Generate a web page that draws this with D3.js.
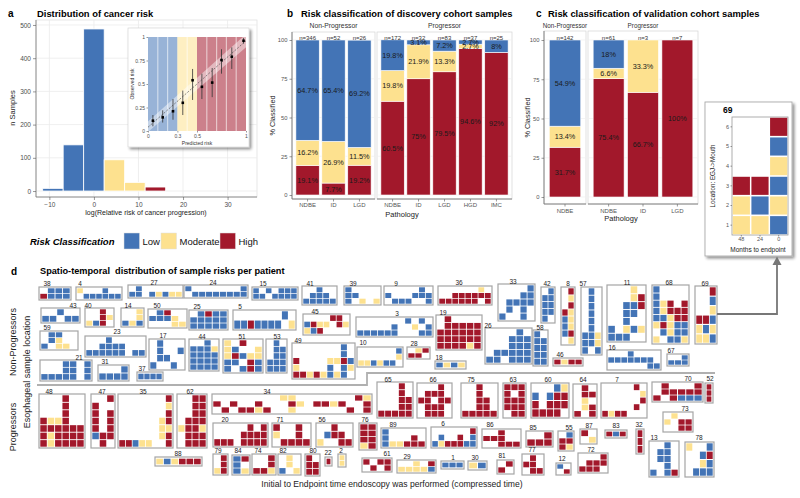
<!DOCTYPE html>
<html><head><meta charset="utf-8">
<script src="https://cdn.jsdelivr.net/npm/d3@7"></script>
<style>
body{margin:0;background:#fff;}
svg{font-family:"Liberation Sans",Arial,Helvetica,sans-serif;}
</style></head><body>
<svg id="fig" width="800" height="498"></svg>
<script>
// ================= DATA =================
const riskLevels = ["Low","Moderate","High"];
const riskCodes = {L:"Low", M:"Moderate", H:"High"};

// Panel a: histogram
const histCenters = [-9.2,-4.6,0,4.6,9.2,13.8];
const histCounts  = [8,139,488,94,26,12];
const histRisk    = ["Low","Low","Low","Moderate","Moderate","High"];
const histBinWidth = 4.6;
const histXTicks = [-10,0,10,20,30];
const histYTicks = [0,100,200,300,400,500];

// Panel a inset: calibration
const calPred = [0.05,0.15,0.255,0.355,0.455,0.55,0.655,0.75,0.855,0.975];
const calObs  = [0.11,0.145,0.21,0.30,0.54,0.47,0.515,0.755,0.79,0.96];
const calLow  = [0.05,0.09,0.12,0.17,0.33,0.34,0.36,0.61,0.66,0.93];
const calHigh = [0.17,0.22,0.34,0.43,0.66,0.61,0.67,0.87,0.89,0.99];
const calCutLo = [0,0.3,0.5];
const calCutHi = [0.3,0.5,1];
const calFitX  = [0,1];
const calFitLo = [-0.01,0.89];
const calFitMid= [0.04,0.96];
const calFitHi = [0.10,1.03];
const calXTicks = [0,0.3,0.5,1];
const calYTicks = [0,0.25,0.5,0.75,1];

// Panel b: discovery cohort
const discCohort = ["Non-Progressor","Non-Progressor","Non-Progressor","Progressor","Progressor","Progressor","Progressor","Progressor"];
const discPath = ["NDBE","ID","LGD","NDBE","ID","LGD","HGD","IMC"];
const discN    = [346,52,26,172,32,83,37,25];
const discHigh = [19.1,7.7,19.2,60.5,75,79.5,94.6,92];
const discMod  = [16.2,26.9,11.5,19.8,21.9,13.3,2.7,0];
const discLow  = [64.7,65.4,69.2,19.8,3.1,7.2,2.7,8];

// Panel c: validation cohort
const valCohort = ["Non-Progressor","Progressor","Progressor","Progressor"];
const valPath = ["NDBE","NDBE","ID","LGD"];
const valN    = [142,61,3,7];
const valHigh = [31.7,75.4,66.7,100];
const valMod  = [13.4,6.6,33.3,0];
const valLow  = [54.9,18,0,0];

const pctTicks = [0,25,50,75,100];

// Panel d: per patient grids (rows top->bottom = mouth->EGJ, cols = time)
const nonProgIds = [38,4,27,24,15,41,39,9,36,33,42,8,57,11,68,69,43,40,14,50,25,5,45,3,59,23,17,44,51,53,49,10,19,28,18,26,58,46,16,67,21,31,37];
const nonProgGrids = [
 [".LLL","HLLL"],
 ["M...L..",".LLLLLL"],
 [".L......","LL.LMLMM"],
 ["L.......L",".LLLLLLLL"],
 ["L.L.LLL","LL.LLLL"],
 ["..L..",".LLL.","LLLLL"],
 ["L....","LL...","L.M.M"],
 [".....L.","L...LLL",".LLL..L"],
 ["......M.","..HHHHHH","HHHHHH.H"],
 ["....L","...LL",".LLLL",".L.L.","L..L."],
 [".L","LL","LL","LL","L."],
 [".H",".M",".H","HM","LM","LM","LH",".M"],
 [".L.",".L.",".L.",".L.",".L.",".L.","LLM","LLM","L.L"],
 ["...M.","...MH","..LLH","..LL.","..L..","L.MLM","LLL.."],
 ["L....","L....","LMH.H","LMHHH","LLMHH","MHMLL",".LMLL","M.LLM"],
 ["..H","..L","..M","HHL","MLM","MML"],
 ["..L..","LL.LL"],
 ["..H.","..HM","MLH."],
 ["..M","..M","LML"],
 [".LH..","LLLM.","...MM"],
 [".LHLL","LLLLL","LLLLL"],
 [".......L.","LLHLLLL.M"],
 ["....HH.","LHMM.HM","MLH...."],
 [".......L.L.",".....L..M.L","LLLLLL...LL"],
 [".LL..",".LM..","L.MM."],
 ["...L.....","..LLLL...","LLLLLL.LL"],
 [".L...",".L..L",".LL..","L..L."],
 ["..L.","LLLM","LLLL","LLLL","LLLL"],
 ["M.H..","ML..M","MHLMM","LL.HL","L.LHL"],
 [".L.",".LL",".LL","LLL","LLL"],
 [".......L.",".......L.","H....MMHL","M....L.LM","HHMHMLML."],
 ["......L","......M","MMLMLL."],
 [".H....",".HHHHH","HHHHHH","HHHHHH","HHHHMH"],
 [".MH","HH."],
 ["LMLM"],
 ["....L.","...LLL","...LLL",".LLLLL","LL.LLL"],
 ["L.","LL","LL","LL","LL"],
 ["HMHH"],
 ["...L....","LLLLLLL.","......LL"],
 ["..L","LLL"],
 ["...LL.L","...LL.L","LLLLL.L"],
 ["...L","LLLL"],
 ["LLLL"]
];
const progIds = [48,47,35,62,34,65,66,75,63,60,64,7,70,52,20,71,56,76,89,6,86,85,55,87,83,32,73,13,78,88,79,84,74,82,80,22,2,61,29,1,30,81,77,12,72];
const progGrids = [
 ["...H..","...H..","...H..","HMMH..","HHHHHH","HMHHHH","HMHHHH"],
 ["..H","H..","H.H","H.H","H.H","LHH",".H."],
 [".......H",".......M",".......H","......MH","......MM","......MH","HHLMM..H"],
 ["..HH","..HH","..HH",".HHH","MHHM",".HHH",".HHH"],
 ["........MM.......HM","H.H..H...HM.HHMH..H",".H.HHMH..M......H.H"],
 ["...H.","...H.","...HH","...HH","HHHHH"],
 ["...H.",".HHH.","HH.HH",".HHH.",".HHH."],
 ["..H..","..H..","..HH.","..HH.","HHHHH"],
 ["HHH","H.H","HHH","HHH",".HH"],
 ["...LM","L.LHH","H.HHH","HHHH."],
 [".H.",".HH",".M.",".MH","H.H"],
 [".....H.","......M","......H",".....H.","HMHH..."],
 [".H...H",".HHHHH","H.HLLL"],
 ["H","H","H"],
 [".....H.H","....HHHH","HHH.HHHH"],
 ["H..H.","M..H.",".HHHH"],
 ["..H..",".LHH.","M..HH"],
 ["HH","HH","HH","MH"],
 ["L.....","L...H.","LMMHHH"],
 ["......H",".L..H.L","LMHHHLL"],
 ["..H..","HHH..","..HHH"],
 ["..H","HHH"],
 [".L","HH","HM"],
 ["H.",".M"],
 ["HLH"],
 ["H","H","H"],
 [".M..","M.HH","..HH"],
 ["..L.",".LL.",".LL.","..L.","L.LH"],
 ["M..L","..LH","..ML",".LLL"],
 ["MLMHHH"],
 [".H",".H","MH"],
 ["LH","L.","LM"],
 ["..H","..H","HHM"],
 [".M.",".M.","L.M"],
 ["H.","HH","HH"],
 ["H"],
 ["M","M"],
 ["H.HH",".H.H"],
 ["..M.H","MMMML"],
 ["LLL"],
 ["ML"],
 [".H","H."],
 [".H.","HH.",".HH"],
 ["L.",".H"],
 ["...H",".HHH","HHH."]
];

// Patient 69 detail
const p69Months = [48,24,0];
const p69Locs   = [1,2,3,4,5,6];
const p69CellMonth = [48,48,48,24,24,24,0,0,0,0,0,0];
const p69CellLoc   = [1,2,3,1,2,3,1,2,3,4,5,6];
const p69CellRisk  = ["Moderate","Moderate","High","Moderate","Low","High","Low","Moderate","Low","Moderate","Low","High"];

// ================= LAYOUT (positions only) =================
const tileBoxes = {
 38:[39,287,71,300,47,283], 4:[76,287,122,300,80,283], 27:[128,285,183,298,154,282], 24:[184,285,248,298,213,282],
 15:[252,287,298,300,263,283], 41:[302,286,337,305,310,283], 39:[344,286,381,305,353,283], 9:[384,286,433,305,396,283],
 36:[438,286,492,305,459,282], 33:[498,284,535,321,513,281], 42:[541,287,555,323,547,283], 8:[561,287,575,345,568,283],
 57:[581,287,602,355,583,283], 11:[607,285,646,342,627,282], 68:[652,285,689,344,669,282], 69:[695,286,717,344,705,283],
 43:[41,308,80,323,73,305], 40:[85,308,114,327,88,305], 14:[121,308,144,327,128,305], 50:[148,309,187,328,157,305],
 25:[189,310,228,330,197,306], 5:[233,310,296,330,240,306], 45:[303,314,350,335,315,311], 3:[356,317,433,337,397,313],
 59:[40,331,78,350,47,327], 23:[85,336,146,357,117,331], 17:[149,339,185,370,163,335], 44:[189,339,219,371,202,336],
 51:[223,339,263,373,242,336], 53:[266,339,287,373,277,336], 49:[292,343,355,379,298,340], 10:[357,347,403,367,363,342],
 19:[436,315,482,350,443,312], 28:[407,347,430,359,414,343], 18:[435,361,466,369,439,357], 26:[485,328,532,364,488,325],
 58:[533,330,548,366,540,327], 46:[553,358,583,366,560,354], 16:[607,350,661,370,612,347], 67:[667,354,689,366,671,350],
 21:[40,360,92,381,79,357], 31:[98,365,129,381,105,361], 37:[137,372,163,381,142,368],
 48:[39,394,85,448,49,391], 47:[91,394,115,448,102,391], 35:[118,394,173,448,143,391], 62:[177,394,207,448,190,391],
 34:[212,394,372,414,267,391], 65:[377,382,413,418,388,379], 66:[417,383,452,418,433,379], 75:[461,383,498,418,471,379],
 63:[503,383,526,418,513,379], 60:[531,383,569,418,548,379], 64:[573,384,597,418,583,379], 7:[601,383,647,418,617,379],
 70:[652,382,703,402,688,378], 52:[705,383,713,403,710,378], 20:[213,423,268,447,225,419], 71:[272,423,311,447,280,419],
 56:[316,423,353,447,322,419], 76:[359,423,377,450,365,419], 89:[381,428,426,448,393,424], 6:[431,427,477,448,443,423],
 86:[482,429,521,448,490,424], 85:[526,431,553,447,533,427], 55:[558,431,574,451,569,427], 87:[580,429,597,444,589,425],
 83:[605,430,627,438,616,425], 32:[636,429,644,454,639,424], 73:[663,412,693,432,685,408], 13:[649,441,679,477,654,437],
 78:[685,442,714,477,699,437], 88:[155,457,202,466,178,453], 79:[213,454,228,475,218,450], 84:[232,455,250,475,238,450],
 74:[252,454,276,475,258,450], 82:[278,454,301,475,283,450], 80:[305,454,320,476,313,450], 22:[325,457,332,466,328,452],
 2:[338,454,346,467,341,450], 61:[362,458,392,472,387,453], 29:[397,460,436,473,407,456], 1:[441,461,464,469,453,457],
 30:[468,461,487,470,475,457], 81:[497,460,514,474,502,455], 77:[522,454,544,475,532,449], 12:[556,463,571,475,562,458],
 72:[578,453,608,473,591,449]
};

// ================= STYLE =================
const FONT = "'Liberation Sans', Arial, Helvetica, sans-serif";
const riskColor = d3.scaleOrdinal().domain(riskLevels).range(["#4374B6","#FDE18F","#A2182B"]);
const svg = d3.select("#fig");

function txt(g, x, y, s, o = {}) {
  const t = g.append("text").attr("x", x).attr("y", y).text(s)
    .attr("font-size", o.size || 8).attr("fill", o.fill || "#000")
    .attr("text-anchor", o.anchor || "start")
    .attr("dominant-baseline", o.base || "central")
    .attr("font-family", FONT);
  if (o.weight) t.attr("font-weight", o.weight);
  if (o.style) t.attr("font-style", o.style);
  if (o.rotate) t.attr("transform", `rotate(${o.rotate},${x},${y})`);
  if (o.pre) t.style("white-space", "pre");
  return t;
}
function styleAxis(a, size, col) {
  a.attr("font-family", FONT);
  a.select(".domain").remove();
  a.selectAll(".tick line").attr("stroke", "#555").attr("stroke-width", 0.6);
  a.selectAll(".tick text").attr("font-size", size).attr("fill", col || "#4d4d4d").attr("font-family", FONT);
}

const defs = svg.append("defs");
const f = defs.append("filter").attr("id","shadow").attr("x","-10%").attr("y","-10%").attr("width","130%").attr("height","130%");
f.append("feGaussianBlur").attr("in","SourceAlpha").attr("stdDeviation",1.5);
f.append("feOffset").attr("dx",1.5).attr("dy",1.5).attr("result","ob");
f.append("feComponentTransfer").append("feFuncA").attr("type","linear").attr("slope",0.45);
const fm = f.append("feMerge"); fm.append("feMergeNode"); fm.append("feMergeNode").attr("in","SourceGraphic");

// ================= PANEL A =================
const gA = svg.append("g");
txt(gA, 8, 13, "a", {size:10, weight:"bold"});
txt(gA, 37, 13, "Distribution of cancer risk", {size:9.4, weight:"bold"});
const aX = d3.scaleLinear().domain([-13,36.6]).range([36,257]);
const aY = d3.scaleLinear().domain([-18,515]).range([197,20]);
gA.append("rect").attr("x",aX.range()[0]).attr("y",aY.range()[1])
  .attr("width",aX.range()[1]-aX.range()[0]).attr("height",aY.range()[0]-aY.range()[1])
  .attr("fill","#fff").attr("stroke","#e2e2e2").attr("stroke-width",0.8);
histXTicks.forEach(t => gA.append("line").attr("x1",aX(t)).attr("x2",aX(t)).attr("y1",aY.range()[1]).attr("y2",aY.range()[0]).attr("stroke","#ebebeb").attr("stroke-width",0.8));
histYTicks.forEach(t => gA.append("line").attr("x1",aX.range()[0]).attr("x2",aX.range()[1]).attr("y1",aY(t)).attr("y2",aY(t)).attr("stroke","#ebebeb").attr("stroke-width",0.8));
gA.selectAll(".hbar").data(histCenters).enter().append("rect")
  .attr("x", c => aX(c - histBinWidth/2)).attr("width", c => aX(c + histBinWidth/2) - aX(c - histBinWidth/2))
  .attr("y", (c,i) => aY(histCounts[i])).attr("height", (c,i) => aY(0) - aY(histCounts[i]))
  .attr("fill", (c,i) => riskColor(histRisk[i])).attr("stroke","#fff").attr("stroke-width",0.8);
gA.append("line").attr("x1",36).attr("x2",36).attr("y1",20).attr("y2",197).attr("stroke","#777").attr("stroke-width",0.8);
gA.append("line").attr("x1",36).attr("x2",257).attr("y1",197).attr("y2",197).attr("stroke","#777").attr("stroke-width",0.8);
styleAxis(gA.append("g").attr("transform","translate(36,0)").call(d3.axisLeft(aY).tickValues(histYTicks).tickSize(3).tickPadding(2)), 6.5);
styleAxis(gA.append("g").attr("transform","translate(0,197)").call(d3.axisBottom(aX).tickValues(histXTicks).tickSize(3).tickPadding(2)), 6.5);
txt(gA, 12, 108, "n Samples", {size:7.5, anchor:"middle", rotate:-90, fill:"#222"});
txt(gA, 146, 212, "log(Relative risk of cancer progression)", {size:7, anchor:"middle", fill:"#222"});

// inset
const gI = svg.append("g");
gI.append("rect").attr("x",128).attr("y",28).attr("width",121).attr("height",119).attr("fill","#fff").attr("stroke","#d0d0d0").attr("stroke-width",0.6).attr("filter","url(#shadow)");
const iX = d3.scaleLinear().domain([0,1]).range([148,246]);
const iY = d3.scaleLinear().domain([0,1]).range([131,37]);
gI.selectAll(".bg").data(calCutLo).enter().append("rect")
  .attr("x", (d)=>iX(d)).attr("width",(d,i)=>iX(calCutHi[i])-iX(d))
  .attr("y", iY(1)).attr("height", iY(0)-iY(1))
  .attr("fill",(d,i)=>riskColor(riskLevels[i])).attr("fill-opacity",0.55);
iX.ticks(10).filter(t => t>0 && t<1 && Math.abs(t-0.3)>1e-6 && Math.abs(t-0.5)>1e-6).forEach(t =>
  gI.append("line").attr("x1",iX(t)).attr("x2",iX(t)).attr("y1",iY(1)).attr("y2",iY(0)).attr("stroke","#fff").attr("stroke-opacity",0.55).attr("stroke-width",1.2));
gI.append("clipPath").attr("id","iclip").append("rect").attr("x",iX(0)).attr("y",iY(1)).attr("width",iX(1)-iX(0)).attr("height",iY(0)-iY(1));
const gIc = gI.append("g").attr("clip-path","url(#iclip)");
gIc.append("path").datum(calFitX).attr("d", d3.area().x(d=>iX(d)).y0((d,i)=>iY(calFitLo[i])).y1((d,i)=>iY(calFitHi[i])))
  .attr("fill","#fff").attr("fill-opacity",0.45);
gIc.append("path").datum(calFitX).attr("d", d3.line().x(d=>iX(d)).y((d,i)=>iY(calFitMid[i])))
  .attr("stroke","#555").attr("stroke-width",0.7).attr("stroke-dasharray","2,1.5").attr("fill","none");
calPred.forEach((p,i) => {
  gI.append("line").attr("x1",iX(p)).attr("x2",iX(p)).attr("y1",iY(calLow[i])).attr("y2",iY(calHigh[i])).attr("stroke","#333").attr("stroke-width",0.8);
  gI.append("rect").attr("x",iX(p)-1.3).attr("y",iY(calObs[i])-1.3).attr("width",2.6).attr("height",2.6).attr("fill","#000");
});
const iax = gI.append("g").attr("transform",`translate(${iX(0)},0)`).call(d3.axisLeft(iY).tickValues(calYTicks).tickSize(1.5).tickPadding(1.5).tickFormat(d3.format("~g")));
styleAxis(iax, 5);
const ibx = gI.append("g").attr("transform",`translate(0,${iY(0)})`).call(d3.axisBottom(iX).tickValues(calXTicks).tickSize(1.5).tickPadding(1.5).tickFormat(d3.format("~g")));
styleAxis(ibx, 5);
txt(gI, 132, 84, "Observed risk", {size:5, anchor:"middle", rotate:-90, fill:"#333"});
txt(gI, 197, 142.5, "Predicted risk", {size:5, anchor:"middle", fill:"#333"});

// legend
const gL = svg.append("g");
txt(gL, 30, 241.5, "Risk Classification", {size:9.5, weight:"bold", style:"italic"});
const legX = [124,161,220];
riskLevels.forEach((r,i) => {
  gL.append("rect").attr("x",legX[i]).attr("y",233).attr("width",15.5).attr("height",16).attr("fill",riskColor(r)).attr("stroke","#ddd").attr("stroke-width",0.5);
  txt(gL, legX[i]+18.5, 241.5, r, {size:9.5, fill:"#111"});
});

// ================= PANELS B & C =================
function stackPanel(cfg) {
  const g = svg.append("g");
  const y = d3.scaleLinear().domain([0,100]).range([cfg.y0, cfg.y100]);
  cfg.facets.forEach((fc, fi) => {
    const idx = cfg.cohort.map((c,i) => c === fc.name ? i : -1).filter(i => i >= 0);
    const x = d3.scaleBand().domain(idx).range([fc.x0, fc.x1]).paddingInner(0.1).paddingOuter(0.15);
    g.append("rect").attr("x",fc.x0).attr("y",cfg.yTop).attr("width",fc.x1-fc.x0).attr("height",cfg.yBottom-cfg.yTop)
      .attr("fill","#fff").attr("stroke","#d4d4d4").attr("stroke-width",0.7);
    pctTicks.forEach(t => g.append("line").attr("x1",fc.x0).attr("x2",fc.x1).attr("y1",y(t)).attr("y2",y(t)).attr("stroke","#efefef").attr("stroke-width",0.7));
    const rows = idx.map(i => ({i, High:cfg.high[i], Moderate:cfg.mod[i], Low:cfg.low[i]}));
    const series = d3.stack().keys(["High","Moderate","Low"])(rows);
    series.forEach(s => {
      s.forEach(d => {
        const v = d[1]-d[0];
        if (v <= 0) return;
        g.append("rect").attr("x", x(d.data.i)).attr("width", x.bandwidth())
          .attr("y", y(d[1])).attr("height", y(d[0]) - y(d[1]))
          .attr("fill", riskColor(s.key)).attr("stroke","#fff").attr("stroke-width",0.6);
      });
    });
    series.forEach(s => {
      s.forEach(d => {
        const v = d[1]-d[0];
        if (v <= 0) return;
        txt(g, x(d.data.i) + x.bandwidth()/2, y((d[0]+d[1])/2), `${d.data[s.key]}%`, {size:cfg.pctSize, anchor:"middle", fill:"#1a1a1a"});
      });
    });
    idx.forEach(i => {
      txt(g, x(i)+x.bandwidth()/2, y(100)-1.8, `n=${cfg.n[i]}`, {size:6, anchor:"middle", fill:"#333"});
      txt(g, x(i)+x.bandwidth()/2, cfg.xLabY, cfg.path[i], {size:6, anchor:"middle", fill:"#555"});
      g.append("line").attr("x1",x(i)+x.bandwidth()/2).attr("x2",x(i)+x.bandwidth()/2).attr("y1",cfg.yBottom).attr("y2",cfg.yBottom+2.5).attr("stroke","#555").attr("stroke-width",0.6);
    });
    txt(g, (fc.x0+fc.x1)/2, cfg.stripY, fc.name, {size:cfg.stripSize, anchor:"middle", fill:"#333"});
    g.append("line").attr("x1",fc.x0).attr("x2",fc.x1).attr("y1",cfg.yBottom).attr("y2",cfg.yBottom).attr("stroke","#777").attr("stroke-width",0.9);
  });
  const x0 = cfg.facets[0].x0;
  g.append("line").attr("x1",x0).attr("x2",x0).attr("y1",cfg.yTop).attr("y2",cfg.yBottom).attr("stroke","#777").attr("stroke-width",0.9);
  styleAxis(g.append("g").attr("transform",`translate(${x0},0)`).call(d3.axisLeft(y).tickValues(pctTicks).tickSize(2.5).tickPadding(2)), 5.8, "#555");
  txt(g, cfg.ytitleX, (cfg.yTop+cfg.yBottom)/2, "% Classified", {size:7.3, anchor:"middle", rotate:-90, fill:"#222"});
  const xm = (cfg.facets[0].x0 + cfg.facets[cfg.facets.length-1].x1)/2;
  txt(g, xm, cfg.pathY, "Pathology", {size:7.5, anchor:"middle", fill:"#222"});
  txt(g, cfg.letterX, 13, cfg.letter, {size:10, weight:"bold"});
  txt(g, cfg.titleX, 13, cfg.title, {size:9.4, weight:"bold"});
}

stackPanel({
  letter:"b", letterX:287, titleX:301, title:"Risk classification of discovery cohort samples",
  cohort:discCohort, path:discPath, n:discN, high:discHigh, mod:discMod, low:discLow,
  facets:[{name:"Non-Progressor", x0:292, x1:375},{name:"Progressor", x0:377, x1:512}],
  yTop:32, yBottom:199, y0:195, y100:40, stripY:25, stripSize:6.8, xLabY:205, pathY:214.5, ytitleX:272, pctSize:7.3
});
stackPanel({
  letter:"c", letterX:536, titleX:548, title:"Risk classification of validation cohort samples",
  cohort:valCohort, path:valPath, n:valN, high:valHigh, mod:valMod, low:valLow,
  facets:[{name:"Non-Progressor", x0:544, x1:586},{name:"Progressor", x0:588, x1:698}],
  yTop:31, yBottom:204, y0:197, y100:40, stripY:25, stripSize:6.3, xLabY:211, pathY:218.5, ytitleX:527, pctSize:7.3
});

// ================= PANEL D =================
const gD = svg.append("g");
txt(gD, 11, 271, "d", {size:10, weight:"bold"});
txt(gD, 40, 271, "Spatio-temporal  distribution of sample risks per patient", {size:9.2, weight:"bold", pre:true});
txt(gD, 13, 342, "Non-Progressors", {size:9, anchor:"middle", rotate:-90, fill:"#222"});
txt(gD, 13, 427, "Progressors", {size:9, anchor:"middle", rotate:-90, fill:"#222"});
txt(gD, 27, 372, "Esophageal sample location", {size:9, anchor:"middle", rotate:-90, fill:"#222"});
txt(gD, 392, 484, "Initial to Endpoint time endoscopy was performed (compressed time)", {size:8.6, anchor:"middle", fill:"#222"});
gD.append("path").attr("d","M37,385 H367 V373 H715").attr("fill","none").attr("stroke","#b0b0b0").attr("stroke-width",1.8);

function drawTile(id, rows) {
  const b = tileBoxes[id];
  if (!b) return;
  const [x0,y0,x1,y1,lx,ly] = b;
  const g = gD.append("g");
  g.append("rect").attr("x",x0).attr("y",y0).attr("width",x1-x0).attr("height",y1-y0)
    .attr("fill","#fff").attr("stroke","#a5a5a5").attr("stroke-width",1.2);
  const nc = rows[0].length, nr = rows.length;
  const sx = d3.scaleBand().domain(d3.range(nc)).range([x0+1.3, x1-1.3]).paddingInner(0.12);
  const sy = d3.scaleBand().domain(d3.range(nr)).range([y0+1.3, y1-1.3]).paddingInner(0.12);
  const cells = [];
  rows.forEach((r,i) => [...r].forEach((c,j) => { if (riskCodes[c]) cells.push({i, j, risk:riskCodes[c]}); }));
  g.selectAll("rect.cell").data(cells).enter().append("rect").attr("class","cell")
    .attr("x", d => sx(d.j)).attr("y", d => sy(d.i)).attr("width", sx.bandwidth()).attr("height", sy.bandwidth())
    .attr("fill", d => riskColor(d.risk));
  txt(g, lx, ly, String(id), {size:6.5, anchor:"middle", fill:"#222"});
}
nonProgIds.forEach((id,k) => drawTile(id, nonProgGrids[k]));
progIds.forEach((id,k) => drawTile(id, progGrids[k]));

// Patient 69 detail
const gP = svg.append("g");
gP.append("rect").attr("x",705).attr("y",102).attr("width",87).attr("height",154).attr("fill","#fff").attr("stroke","#aaa").attr("stroke-width",0.9).attr("filter","url(#shadow)");
txt(gP, 723, 110, "69", {size:8.5, weight:"bold"});
const pX = d3.scaleBand().domain(p69Months).range([732,788]).paddingInner(0.08).paddingOuter(0.04);
const pY = d3.scaleBand().domain(p69Locs).range([235,117]).paddingInner(0.08).paddingOuter(0.04);
gP.append("rect").attr("x",732).attr("y",117).attr("width",56).attr("height",118).attr("fill","#fff").attr("stroke","#999").attr("stroke-width",0.8);
gP.selectAll(".pc").data(p69CellRisk).enter().append("rect")
  .attr("x",(d,i)=>pX(p69CellMonth[i])).attr("y",(d,i)=>pY(p69CellLoc[i]))
  .attr("width",pX.bandwidth()).attr("height",pY.bandwidth()).attr("fill",d=>riskColor(d));
styleAxis(gP.append("g").attr("transform","translate(732,0)").call(d3.axisLeft(pY).tickSize(1.5).tickPadding(1.5)), 5.5, "#555");
styleAxis(gP.append("g").attr("transform","translate(0,235)").call(d3.axisBottom(pX).tickSize(1.5).tickPadding(1)), 5.5, "#555");
txt(gP, 758, 249.5, "Months to endpoint", {size:6.5, anchor:"middle", fill:"#222"});
txt(gP, 712, 176, "Location: EGJ->Mouth", {size:6.3, anchor:"middle", rotate:-90, fill:"#222"});
// arrow
gP.append("path").attr("d","M717,314 H777 V264").attr("fill","none").attr("stroke","#777").attr("stroke-width",1.8);
gP.append("path").attr("d","M772.5,265 L781.5,265 L777,256.5 Z").attr("fill","#777");
</script></body></html>
